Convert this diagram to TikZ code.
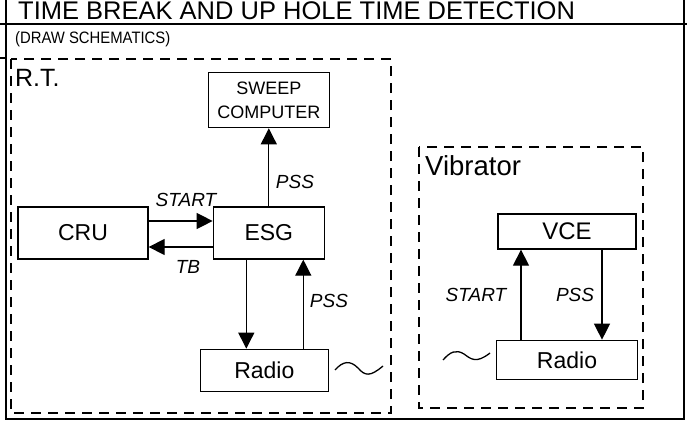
\documentclass[tikz,border=0pt]{standalone}
\usepackage{fontspec}
\setmainfont{Liberation Sans}
\usetikzlibrary{arrows.meta, positioning}

\begin{document}
\begin{tikzpicture}[x=1pt,y=-1pt,
  box/.style={draw,line width=1.3pt,inner sep=0pt,align=center,
    font=\fontsize{23}{26}\selectfont},
  arr/.style={-{Triangle[length=16pt,width=16pt]},line width=1.3pt},
  lbl/.style={anchor=base,inner sep=0pt,font=\fontsize{19}{22}\selectfont\itshape},
  grp/.style={line width=2.3pt,dash pattern=on 10pt off 7pt},
  frame/.style={line width=2pt},
  head/.style={anchor=base west,inner sep=0pt}]
  \useasboundingbox (0,0) rectangle (687,420);
  %% form frame
  \draw[frame] (6,0) -- (6,418.5) -- (684,418.5) -- (684,0);
  \draw[frame] (0,24) -- (687,24);
  \draw[frame] (0,58) -- (6,58);
  \node[head,font=\fontsize{25.5}{28}\selectfont] (title) at (18,20)
    {TIME BREAK AND UP HOLE TIME DETECTION};
  \node[head,font=\fontsize{16.5}{19}\selectfont] (sub) at (15,44)
    {\scalebox{0.9}[1]{(DRAW SCHEMATICS)}};
  %% R.T.
  \draw[grp] (11,59) rectangle (391,413);
  \node[head,font=\fontsize{25}{28}\selectfont] (rt) at (15,86) {R.T.};
  \node[box,minimum width=130pt,minimum height=52pt] (cru) at (83,233) {CRU};
  \node[box,minimum width=111pt,minimum height=52pt,right=64pt of cru] (esg) {ESG};
  \node[box,minimum width=121pt,minimum height=55pt,above=78pt of esg,
    font=\fontsize{18}{24}\selectfont] (sweep) {SWEEP\\COMPUTER};
  \node[box,minimum width=128pt,minimum height=42pt,below=89pt of esg,xshift=-4.5pt] (rradio) {Radio};
  \draw[arr]([yshift=12pt]cru.east)--([yshift=12pt]cru.east -| esg.west);
  \draw[arr]([yshift=-14pt]esg.west)--([yshift=-14pt]esg.west -| cru.east);
  \draw[arr](esg.north)--(sweep.south);
  \draw[arr]([xshift=-22.5pt]esg.south)--([xshift=-22.5pt]esg.south |- rradio.north);
  \draw[arr]([xshift=34.5pt]esg.south |- rradio.north)--([xshift=34.5pt]esg.south);
  \node[lbl] (startrt) at (186,206) {START};
  \node[lbl] (tb) at (188,273) {TB};
  \node[lbl] (pssup) at (295,188) {PSS};
  \node[lbl] (pssrt) at (329,307) {PSS};
  \draw[line width=1.3pt] (335,370) .. controls (343,361) and (350,360) .. (358,368)
    .. controls (365,376) and (370,377) .. (383,366);
  %% Vibrator
  \draw[grp] (419,147) rectangle (643,408);
  \node[head,font=\fontsize{27.5}{30}\selectfont] (vib) at (425,175) {Vibrator};
  \node[box,minimum width=138pt,minimum height=35pt,font=\fontsize{24}{26}\selectfont] (vce) at (567,231.5) {VCE};
  \node[box,minimum width=141pt,minimum height=39pt,below=90pt of vce] (vradio) {Radio};
  \draw[arr]([xshift=-46pt]vradio.north)--([xshift=-46pt]vradio.north |- vce.south);
  \draw[arr]([xshift=35pt]vce.south)--([xshift=35pt]vce.south |- vradio.north);
  \node[lbl] (startvib) at (476,301) {START};
  \node[lbl] (pssvib) at (575,301) {PSS};
  \draw[line width=1.3pt] (443,360) .. controls (450,352) and (456,349) .. (464,354)
    .. controls (471,359) and (476,364) .. (490,353);
\end{tikzpicture}
\end{document}
